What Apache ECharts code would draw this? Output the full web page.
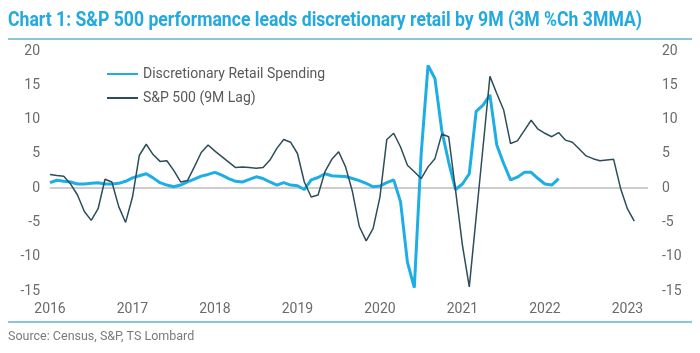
<!DOCTYPE html>
<html>
<head>
<meta charset="utf-8">
<script src="https://cdn.jsdelivr.net/npm/echarts@6/dist/echarts.min.js"></script>
<style>
  html, body { margin: 0; padding: 0; background: #fff; }
  #chart { width: 700px; height: 353px; }
</style>
</head>
<body>
<div id="chart"></div>
<script>
// monthly categories, Jan 2016 .. Apr 2023
const months = [];
for (let y = 2016; y <= 2023; y++) {
  for (let m = 1; m <= 12; m++) {
    if (y === 2023 && m > 4) break;
    months.push(y + '-' + String(m).padStart(2, '0'));
  }
}

const yTicks = [-15, -10, -5, 0, 5, 10, 15, 20];

// 3M %Ch 3MMA
const retail = [
  0.8, 1.15, 1.0, 0.9, 0.6, 0.6, 0.7, 0.8, 0.6, 0.6,
  0.7, 1.0, 1.5, 1.8, 2.1, 1.5, 0.8, 0.45, 0.2, 0.45,
  0.9, 1.3, 1.75, 2.0, 2.3, 1.9, 1.4, 1.0, 0.9, 1.27,
  1.65, 1.4, 0.9, 0.45, 0.8, 0.45, 0.35, -0.2, 1.2, 1.55,
  2.1, 1.8, 1.75, 1.7, 1.4, 1.1, 0.7, 0.2, 0.3, 0.8,
  1.2, -2.0, -10.8, -14.5, 5.0, 17.9, 16.0, 8.4, 3.8, -0.2,
  0.6, 2.1, 11.2, 12.1, 13.6, 6.3, 3.6, 1.2, 1.6, 2.3,
  2.3, 1.4, 0.6, 0.45, 1.4
];

const sp500 = [
  2.0, 1.85, 1.75, 0.6, -1.0, -3.4, -4.7, -3.0, 1.3, 0.9,
  -2.7, -5.0, -1.3, 4.8, 6.4, 4.9, 3.9, 4.0, 2.6, 0.9,
  1.1, 3.1, 5.2, 6.3, 5.4, 4.6, 3.8, 3.0, 3.1, 3.0,
  2.9, 3.0, 4.1, 5.8, 7.1, 6.7, 5.05, 0.9, -1.3, -1.0,
  2.4, 4.2, 5.3, 3.1, -0.5, -5.6, -7.7, -5.9, -1.3, 7.1,
  8.0, 6.0, 3.35, 2.4, 1.4, 3.1, 4.3, 7.9, 7.5, -0.3,
  -8.3, -14.4, -4.2, 6.0, 16.3, 13.8, 11.4, 6.5, 6.9, 8.4,
  9.9, 8.6, 8.0, 7.5, 8.1, 7.0, 6.7, 5.7, 4.7, 4.3,
  4.0, 4.1, 4.2, 0.0, -3.0, -4.8
];

const titleText = 'Chart 1: S&P 500 performance leads discretionary retail by 9M (3M %Ch 3MMA)';
const sourceText = 'Source: Census, S&P, TS Lombard';

const titleFont = 'bold 20px Roboto';
const measure = document.createElement('canvas').getContext('2d');
measure.font = titleFont;
const titleScale = 634 / measure.measureText(titleText).width;

const labelColor = '#6b6b6b';
const ruleColor = '#86c8d3';

const chart = echarts.init(document.getElementById('chart'), null, { renderer: 'canvas' });

const yAxisBase = {
  type: 'value',
  min: yTicks[0],
  max: yTicks[yTicks.length - 1],
  interval: 5,
  axisLine: { show: false },
  axisTick: { show: false },
  splitLine: { show: false },
};

chart.setOption({
  animation: false,
  grid: { left: 50, right: 52, top: 51, bottom: 62, containLabel: false, outerBoundsMode: 'none' },
  legend: {
    orient: 'vertical',
    left: 101,
    top: 62,
    itemWidth: 31,
    itemHeight: 14,
    itemGap: 10,
    itemStyle: { opacity: 0 },   // line only, no marker dot
    textStyle: { fontFamily: 'Roboto', fontSize: 14, color: '#595959' },
  },
  xAxis: {
    type: 'category',
    data: months,
    boundaryGap: false,
    axisLine: { show: false, onZero: false },
    axisTick: { show: false },
    axisLabel: {
      interval: (i, v) => v.endsWith('-01'),
      formatter: v => v.slice(0, 4),
      fontFamily: 'Roboto',
      fontSize: 14,
      color: labelColor,
      margin: 11,
    },
  },
  yAxis: [
    Object.assign({}, yAxisBase, {
      position: 'left',
      axisLabel: { fontFamily: 'Roboto', fontSize: 14, color: labelColor, margin: 10 },
    }),
    Object.assign({}, yAxisBase, {
      position: 'right',
      axisLabel: { fontFamily: 'Roboto', fontSize: 14, color: labelColor, margin: 14 },
    }),
  ],
  series: [
    {
      name: 'Discretionary Retail Spending',
      type: 'line',
      data: retail,
      symbol: 'none',
      z: 3,
      lineStyle: { width: 3, color: '#1eaee6' },
      itemStyle: { color: '#1eaee6' },
      markLine: {
        silent: true,
        symbol: 'none',
        z: 1,
        label: { show: false },
        lineStyle: { color: '#bdbdbd', width: 1.5, type: 'solid' },
        data: [{ yAxis: 0 }],
      },
    },
    {
      name: 'S&P 500 (9M Lag)',
      type: 'line',
      data: sp500,
      symbol: 'none',
      z: 4,
      lineStyle: { width: 1.5, color: '#2d4d5a' },
      itemStyle: { color: '#2d4d5a' },
    },
  ],
  graphic: [
    {
      type: 'text',
      x: 8,
      y: 21,
      scaleX: titleScale,
      style: { text: titleText, font: titleFont, fill: '#22a9e0', align: 'left', verticalAlign: 'middle' },
    },
    {
      type: 'line',
      shape: { x1: 8, y1: 39, x2: 692, y2: 39 },
      style: { stroke: ruleColor, lineWidth: 2 },
    },
    {
      type: 'line',
      shape: { x1: 8, y1: 322, x2: 692, y2: 322 },
      style: { stroke: ruleColor, lineWidth: 2 },
    },
    {
      type: 'text',
      x: 8,
      y: 337,
      style: { text: sourceText, font: '12.5px Roboto', fill: '#7a7a7a', align: 'left', verticalAlign: 'middle' },
    },
  ],
});
</script>
</body>
</html>
